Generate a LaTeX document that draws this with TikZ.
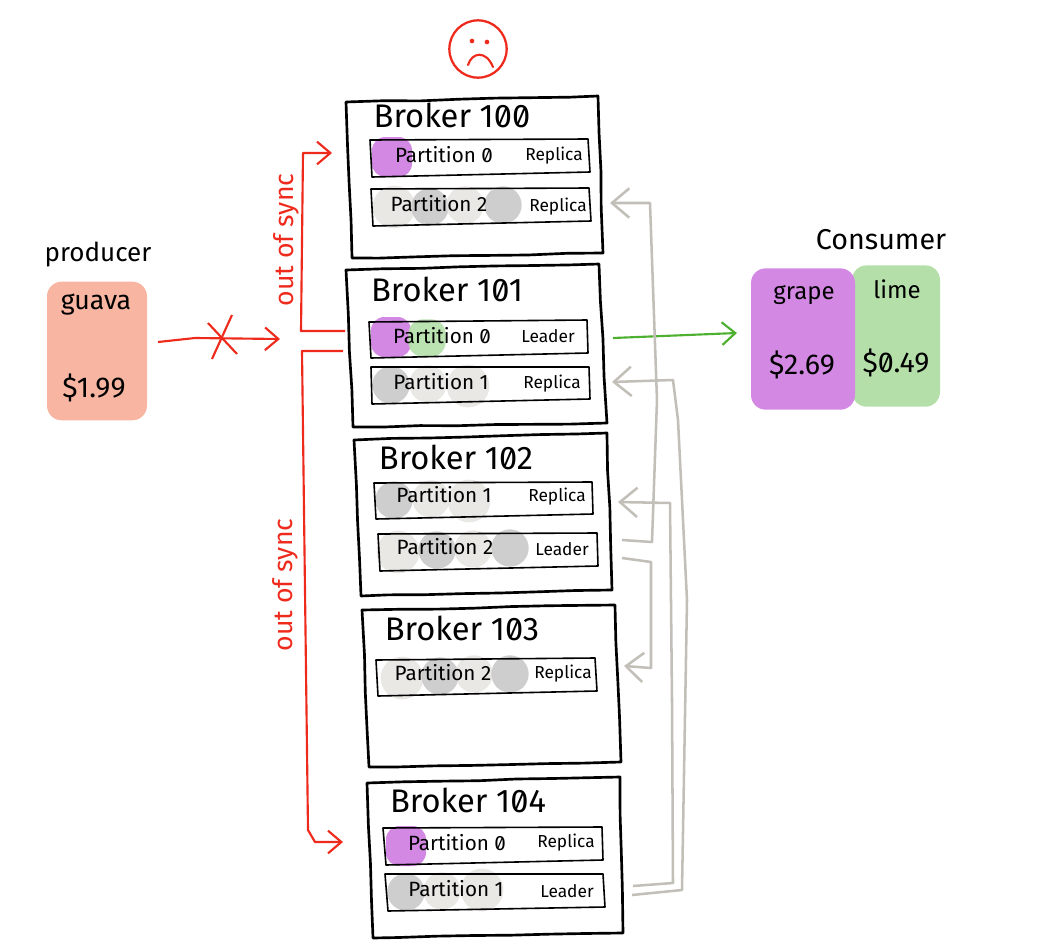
\documentclass[tikz,border=0pt]{standalone}
\usepackage{fontspec}
\setmainfont{Fira Sans}[RawFeature=+zero]
\usetikzlibrary{arrows.meta, decorations.pathmorphing}

\begin{document}
\begin{tikzpicture}[
		x=0.75pt, y=-0.75pt,
		% Box styles
		brokerbox/.style={draw=black, line width=2pt, line join=round, fill=white, decorate, decoration={random steps, segment length=28pt, amplitude=0.5pt}},
		partbar/.style={draw=black, line width=1.2pt, line join=round},
		card/.style={rounded corners=11pt, inner sep=0pt},
		% Blob styles
		lightblob/.style={circle, fill=blobgray, opacity=0.85, inner sep=0pt, minimum size=28pt},
		darkblob/.style={circle, fill=darkgray, opacity=0.85, inner sep=0pt, minimum size=28pt},
		purpleblob/.style={rounded corners=10pt, fill=grape, inner sep=0pt, minimum size=30pt},
		greenblob/.style={rounded corners=11pt, fill=lime, opacity=0.9, inner sep=0pt, minimum size=28pt},
		bigblob/.style={minimum size=32pt},
		% Text styles
		brokertitle/.style={font=\fontsize{24.5}{28}\selectfont},
		parttext/.style={font=\fontsize{15.5}{18}\selectfont},
		roletext/.style={font=\fontsize{13}{15}\selectfont},
		cardtext/.style={font=\fontsize{18}{21}\selectfont},
		pricetext/.style={font=\fontsize{21.5}{26}\selectfont},
		synctext/.style={text=sadred, rotate=90, font=\fontsize{20}{24}\selectfont},
		% Connector styles
		redline/.style={draw=sadred, line width=1.6pt, line join=round},
		redarrow/.style={redline, -{Straight Barb[length=10pt, width=17pt]}},
		greyline/.style={draw=replgray, line width=1.9pt, line join=round, -{Straight Barb[length=13pt, width=22pt]}},
		]
		\definecolor{grape}{HTML}{D389E3}
		\definecolor{lime}{HTML}{B4DFA9}
		\definecolor{guava}{HTML}{F7B5A2}
		\definecolor{blobgray}{HTML}{E6E4E1}
		\definecolor{darkgray}{HTML}{C6C6C6}
		\definecolor{sadred}{HTML}{EE2A1C}
		\definecolor{replgray}{HTML}{C2BFB8}
		\definecolor{flowgreen}{HTML}{4DB030}
		
		\useasboundingbox (0,0) rectangle (1040,950);
		
		% --- BROKER 100 ---
		\draw[brokerbox] (346,102) -- (598,96) -- (603,253) -- (352,258) -- cycle;
		\node[brokertitle] (B100) at (452,115) {Broker 100};
		\node[purpleblob] (B100a) at (392,157) {};
		\draw[partbar] (370,140) -- (588,139) -- (590,172) -- (372,177) -- cycle;
		\node[parttext] (P100a) at (444,155) {Partition 0};
		\node[roletext] (R100a) at (554,156) {Replica};
		\node[lightblob, bigblob] (B100b) at (394,207) {};
		\node[darkblob] (B100c) at (430,207) {};
		\node[lightblob] (B100d) at (465,205) {};
		\node[darkblob] (B100e) at (503,205) {};
		\draw[partbar] (371,189) -- (589,188) -- (591,221) -- (373,226) -- cycle;
		\node[parttext] (P100b) at (439,204) {Partition 2};
		\node[roletext] (R100b) at (558,207) {Replica};
		
		% --- BROKER 101 ---
		\draw[brokerbox] (346,270) -- (599,264) -- (607,423) -- (353,427) -- cycle;
		\node[brokertitle] (B101) at (447,289) {Broker 101};
		\node[purpleblob] (B101a) at (391,337) {};
		\node[greenblob] (B101b) at (427,338) {};
		\draw[partbar] (369,322) -- (587,320) -- (588,353) -- (371,358) -- cycle;
		\node[parttext] (P101a) at (442,336) {Partition 0};
		\node[roletext] (R101a) at (548,336) {Leader};
		\node[darkblob] (B101c) at (391,385) {};
		\node[lightblob] (B101d) at (428,384) {};
		\node[lightblob, bigblob] (B101e) at (468,386) {};
		\draw[partbar] (371,367) -- (589,367) -- (590,399) -- (372,404) -- cycle;
		\node[parttext] (P101b) at (441,382) {Partition 1};
		\node[roletext] (R101b) at (552,384) {Replica};
		
		% --- BROKER 102 ---
		\draw[brokerbox] (354,440) -- (607,433) -- (612,590) -- (361,596) -- cycle;
		\node[brokertitle] (B102) at (456,457) {Broker 102};
		\node[darkblob] (B102a) at (394,500) {};
		\node[lightblob] (B102b) at (431,499) {};
		\node[lightblob, bigblob] (B102c) at (469,501) {};
		\draw[partbar] (374,483) -- (592,482) -- (593,514) -- (376,519) -- cycle;
		\node[parttext] (P102a) at (444,495) {Partition 1};
		\node[roletext] (R102a) at (557,497) {Replica};
		\node[lightblob, bigblob] (B102d) at (398,552) {};
		\node[darkblob] (B102e) at (437,550) {};
		\node[lightblob] (B102f) at (473,549) {};
		\node[darkblob] (B102g) at (510,548) {};
		\draw[partbar] (378,534) -- (597,533) -- (598,566) -- (380,571) -- cycle;
		\node[parttext] (P102b) at (445,547) {Partition 2};
		\node[roletext] (R102b) at (562,549) {Leader};
		
		% --- BROKER 103 ---
		\draw[brokerbox] (362,610) -- (615,605) -- (621,762) -- (369,767) -- cycle;
		\node[brokertitle] (B103) at (462,628) {Broker 103};
		\node[lightblob, bigblob] (B103a) at (402,678) {};
		\node[darkblob] (B103b) at (440,676) {};
		\node[lightblob] (B103c) at (474,674) {};
		\node[darkblob] (B103d) at (510,674) {};
		\draw[partbar] (376,660) -- (595,658) -- (597,691) -- (378,696) -- cycle;
		\node[parttext] (P103a) at (443,673) {Partition 2};
		\node[roletext] (R103a) at (563,674) {Replica};
		
		% --- BROKER 104 ---
		\draw[brokerbox] (367,783) -- (620,777) -- (623,933) -- (373,938) -- cycle;
		\node[brokertitle] (B104) at (468,800) {Broker 104};
		\node[purpleblob] (B104a) at (406,846) {};
		\draw[partbar] (383,828) -- (602,827) -- (603,860) -- (386,865) -- cycle;
		\node[parttext] (P104a) at (457,843) {Partition 0};
		\node[roletext] (R104a) at (566,843) {Replica};
		\node[darkblob] (B104b) at (406,892) {};
		\node[lightblob] (B104c) at (442,891) {};
		\node[lightblob, bigblob] (B104d) at (482,890) {};
		\draw[partbar] (385,874) -- (603,874) -- (605,907) -- (388,911) -- cycle;
		\node[parttext] (P104b) at (456,889) {Partition 1};
		\node[roletext] (R104b) at (567,891) {Leader};
		
		% --- PRODUCER AND CONSUMER ---
		\node[font=\fontsize{19.5}{24}\selectfont] (producer) at (98,255) {producer};
		\node[card, fill=guava, minimum width=75pt, minimum height=104pt] (guavacard) at (97,351) {};
		\node[cardtext, font=\fontsize{20}{24}\selectfont] (guavaname) at (96,305) {guava};
		\node[pricetext] (guavaprice) at (94,388) {\$1.99};
		
		\node[font=\fontsize{21.5}{26}\selectfont] (consumer) at (881,240) {Consumer};
		\node[card, fill=lime, minimum width=66pt, minimum height=106pt] (limecard) at (896,336) {};
		\node[card, fill=grape, minimum width=78pt, minimum height=106pt] (grapecard) at (803,339) {};
		\node[cardtext] (grapename) at (804,295) {grape};
		\node[pricetext] (grapeprice) at (802,365) {\$2.69};
		\node[cardtext] (limename) at (897,289) {lime};
		\node[pricetext] (limeprice) at (896,363) {\$0.49};
		
		% --- SAD FACE ---
		\node[circle, draw=sadred, line width=1.7pt, minimum size=43pt, inner sep=0pt] (face) at (478,49) {};
		\node[circle, fill=sadred, minimum size=3.5pt, inner sep=0pt] (eyeleft) at (472,41) {};
		\node[circle, fill=sadred, minimum size=3.5pt, inner sep=0pt] (eyeright) at (487,42) {};
		\draw[redline, line cap=round] (468,65) .. controls (472,52) and (486,50) .. (493,67);
		
		% --- PRODUCER FLOW ---
		\coordinate (stopstart) at (158,342);
		\coordinate (stopend) at (280,339);
		\draw[redarrow] (stopstart) -- (195,338) -- (stopend);
		\coordinate (crossa) at (208,323);
		\coordinate (crossb) at (237,354);
		\coordinate (crossc) at (232,315);
		\coordinate (crossd) at (212,359);
		\draw[redline] (crossa) -- (crossb);
		\draw[redline] (crossc) -- (crossd);
		
		% --- OUT OF SYNC ---
		\coordinate (syncup) at (345,331);
		\coordinate (syncupend) at (332,153);
		\draw[redarrow] (syncup) -- (301,331) -- (303,153) -- (syncupend);
		\node[synctext] (syncuptext) at (286,240) {out of sync};
		\coordinate (syncdown) at (343,351);
		\coordinate (syncdownend) at (343,842);
		\draw[redarrow] (syncdown) -- (302,351) -- (308,830) -- (315,842) -- (syncdownend);
		\node[synctext] (syncdowntext) at (285,585) {out of sync};
		
		% --- CONSUMER FLOW ---
		\coordinate (fetchstart) at (613,338);
		\coordinate (fetchend) at (737,333);
		\draw[draw=flowgreen, line width=1.6pt, -{Straight Barb[length=10pt, width=17pt]}] (fetchstart) -- (fetchend);
		
		% --- REPLICATION ---
		\coordinate (lead102) at (622,540);
		\coordinate (lead102b) at (622,558);
		\coordinate (lead104) at (633,886);
		\coordinate (lead104b) at (632,895);
		\coordinate (repl100) at (610,203);
		\coordinate (repl101) at (612,382);
		\coordinate (repl102) at (618,502);
		\coordinate (repl103) at (624,666);
		\draw[greyline] (lead102) -- (652,542) -- (657,400) -- (650,203) -- (repl100);
		\draw[greyline] (lead102b) -- (651,562) -- (651,668) -- (repl103);
		\draw[greyline] (lead104) -- (673,883) -- (672,700) -- (670,503) -- (repl102);
		\draw[greyline] (lead104b) -- (682,890) -- (687,600) -- (678,420) -- (673,380) -- (repl101);
		
	\end{tikzpicture}
\end{document}
